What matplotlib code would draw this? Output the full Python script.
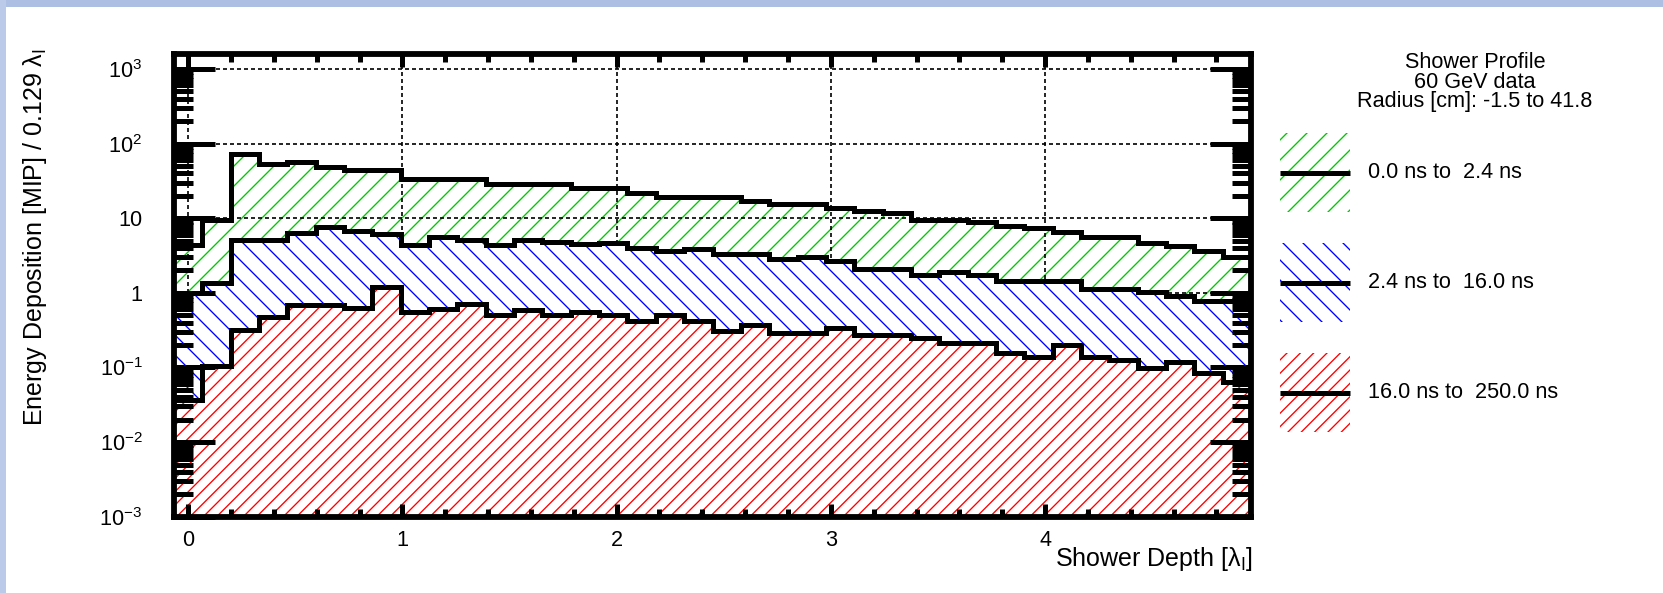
import numpy as np
import matplotlib
matplotlib.use('Agg')
import matplotlib.pyplot as plt
from matplotlib.patches import Rectangle
from matplotlib.ticker import MultipleLocator, LogLocator, NullFormatter

# shower depth bins (one per layer), width in lambda_I
bin_width = 0.1323

# energy deposition per layer [MIP] for the three time windows
green_vals = [4.4, 9.5, 72.6, 53.3, 57.3, 48.7, 44.4, 44.4, 33.6, 33.6,
              33.6, 28.5, 28.5, 28.5, 25.7, 25.7, 21.6, 19.5, 19.5, 19.5,
              17.1, 15.4, 15.4, 13.9, 12.6, 11.7, 9.5, 9.5, 8.8, 7.9,
              7.3, 6.6, 5.6, 5.6, 4.7, 4.3, 3.6, 3.0]
blue_vals = [1.0, 1.35, 5.1, 5.1, 6.3, 7.7, 6.8, 6.1, 4.4, 5.6,
             5.1, 4.4, 5.1, 4.8, 4.5, 4.7, 4.0, 3.6, 3.9, 3.3,
             3.3, 2.8, 3.0, 2.7, 2.1, 2.1, 1.74, 1.89, 1.74, 1.46,
             1.46, 1.46, 1.13, 1.13, 1.02, 0.92, 0.78, 0.77]
red_vals = [0.037, 0.103, 0.32, 0.48, 0.69, 0.69, 0.62, 1.21, 0.56, 0.61,
            0.71, 0.51, 0.59, 0.51, 0.56, 0.51, 0.42, 0.50, 0.42, 0.31,
            0.37, 0.29, 0.29, 0.34, 0.27, 0.27, 0.25, 0.21, 0.21, 0.156,
            0.140, 0.20, 0.14, 0.127, 0.098, 0.117, 0.084, 0.064]

labels = ['0.0 ns to  2.4 ns', '2.4 ns to  16.0 ns', '16.0 ns to  250.0 ns']
title_lines = ['Shower Profile', '60 GeV data', 'Radius [cm]: -1.5 to 41.8']

x_ticks = [0, 1, 2, 3, 4]
x_ticklabels = ['0', '1', '2', '3', '4']
y_ticks = [1e-3, 1e-2, 1e-1, 1, 10, 1e2, 1e3]
y_ticklabels = ['$10^{-3}$', '$10^{-2}$', '$10^{-1}$', '1', '10', '$10^{2}$', '$10^{3}$']

plt.rcParams['font.family'] = ['Liberation Sans', 'DejaVu Sans']
plt.rcParams['mathtext.fontset'] = 'custom'
plt.rcParams['mathtext.rm'] = 'Liberation Sans'
plt.rcParams['mathtext.it'] = 'Liberation Sans:italic'
plt.rcParams['mathtext.default'] = 'regular'
plt.rcParams['hatch.linewidth'] = 0.8

W, H, DPI = 1663, 593, 120
FS = 13
FS_TITLE = 15
fig = plt.figure(figsize=(W / DPI, H / DPI), dpi=DPI)
fig.patch.set_facecolor('white')

ax = fig.add_axes([174 / W, 1 - 516.7 / H, 1077 / W, (516.7 - 54) / H])

edges = bin_width * (np.arange(len(green_vals) + 1) - 0.5)

series = [
    (green_vals, '#00c800', '//', 1),
    (blue_vals, '#0000ff', '\\\\', 2),
    (red_vals, '#ff0000', '///', 3),
]
for vals, col, hatch, z in series:
    ax.stairs(vals, edges, baseline=1e-5, fill=True, facecolor='white',
              edgecolor=col, hatch=hatch, linewidth=0, zorder=z)
    ax.stairs(vals, edges, baseline=None, color='black', linewidth=3,
              zorder=z + 0.1)
    if z == 1:
        # ROOT draws the grid after the first histogram
        for xv in x_ticks:
            ax.axvline(xv, color='black', lw=1, ls=(0, (2.4, 1.8)), zorder=1.5)
        for yv in y_ticks[1:]:
            ax.axhline(yv, color='black', lw=1, ls=(0, (2.4, 1.8)), zorder=1.5)

ax.set_yscale('log')
ax.set_xlim(edges[0], edges[-1])
ax.set_ylim(1e-3, 10 ** 3.2)

ax.set_xticks(x_ticks)
ax.set_xticklabels(x_ticklabels)
ax.xaxis.set_minor_locator(MultipleLocator(0.2))
ax.set_yticks(y_ticks)
ax.set_yticklabels(y_ticklabels)
ax.yaxis.set_minor_locator(LogLocator(base=10, subs=np.arange(2, 10)))
ax.yaxis.set_minor_formatter(NullFormatter())

ax.tick_params(axis='x', which='major', direction='in', length=8, width=3,
               top=True, pad=8, labelsize=FS)
ax.tick_params(axis='x', which='minor', direction='in', length=4.6, width=3,
               top=True)
ax.tick_params(axis='y', which='major', direction='in', length=24.5, width=3,
               right=True, pad=19, labelsize=FS)
ax.tick_params(axis='y', which='minor', direction='in', length=11.4, width=3,
               right=True)
ax.xaxis.set_zorder(5)
ax.yaxis.set_zorder(5)
for sp in ax.spines.values():
    sp.set_linewidth(3.5)
    sp.set_zorder(6)

# overlay in pixel coordinates for labels, legend and slide border
ov = fig.add_axes([0, 0, 1, 1])
ov.set_xlim(0, W)
ov.set_ylim(H, 0)
ov.axis('off')

ov.add_patch(Rectangle((0, 0), W, 7, facecolor='#aebfe4', lw=0))
ov.add_patch(Rectangle((0, 0), 6, H, facecolor='#bccaea', lw=0))

ov.text(35, 48, 'Energy Deposition [MIP] / 0.129 $\\lambda_{I}$', rotation=90,
        ha='center', va='top', fontsize=FS_TITLE)
ov.text(1253, 559, 'Shower Depth [$\\lambda_{I}$]', ha='right', va='center',
        fontsize=FS_TITLE)

for i, line in enumerate(title_lines):
    ov.text(1475, 63 + 19.5 * i, line, ha='center', va='center', fontsize=FS)

box_tops = [133, 243, 353]
for (vals, col, hatch, z), lab, top in zip(series, labels, box_tops):
    ov.add_patch(Rectangle((1280, top), 70, 79, facecolor='white',
                           edgecolor=col, hatch=hatch, lw=0))
    ov.plot([1280, 1350], [top + 39.5, top + 39.5], color='black', lw=3,
            solid_capstyle='butt')
    ov.text(1368, top + 39.5, lab, ha='left', va='center', fontsize=FS)

fig.savefig('out.png', dpi=DPI)
